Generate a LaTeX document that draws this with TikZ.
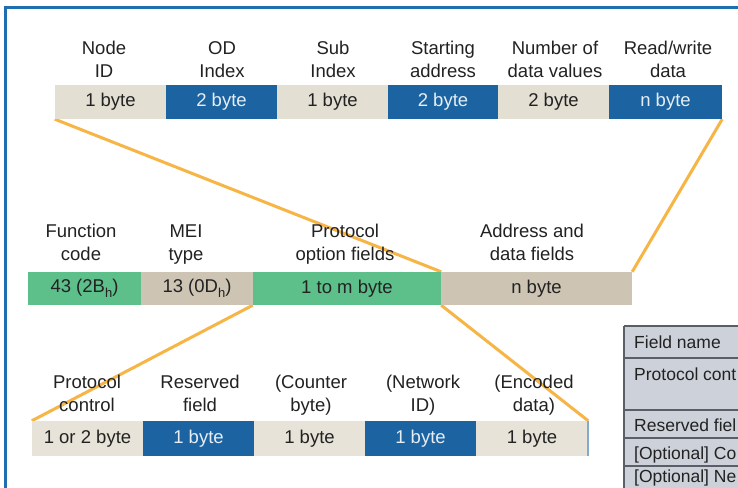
\documentclass[tikz,border=0pt]{standalone}
\usepackage{fontspec}
\setmainfont{Liberation Sans}
\pgfdeclarelayer{bg}
\pgfsetlayers{bg,main}
\definecolor{frameblue}{HTML}{1F6FB0}
\definecolor{cellblue}{HTML}{1C64A1}
\definecolor{topbeige}{HTML}{E3DFD3}
\definecolor{midbeige}{HTML}{CDC4B3}
\definecolor{botbeige}{HTML}{E7E3D8}
\definecolor{cellgreen}{HTML}{5DBF8A}
\definecolor{linkorange}{HTML}{F6B545}
\definecolor{txt}{HTML}{222222}
\definecolor{whitetxt}{HTML}{E6EDF5}
\definecolor{tblfill}{HTML}{CDD2DA}
\definecolor{tblline}{HTML}{5A5E66}
\newcommand\hsub[1]{\raisebox{-0.55ex}{\fontsize{13}{13}\selectfont #1}}
\begin{document}
\begin{tikzpicture}[x=1pt,y=-1pt,
  lbl/.style={align=center, inner sep=0pt, anchor=south, text=txt,
    font=\fontsize{18.5}{23}\selectfont},
  cell/.style={inner sep=0pt, text=txt, font=\fontsize{18.5}{23}\selectfont},
  bluecell/.style={cell, fill=cellblue, text=whitetxt},
  tbeige/.style={cell, fill=topbeige},
  mbeige/.style={cell, fill=midbeige},
  bbeige/.style={cell, fill=botbeige},
  gcell/.style={cell, fill=cellgreen},
  conn/.style={draw=linkorange, line width=3pt},
  tbltxt/.style={anchor=base west, inner sep=0pt, text=txt,
    font=\fontsize{17.5}{21}\selectfont}
]
\useasboundingbox (0,0) rectangle (738,487);

% ---- top row ----
\node[tbeige, minimum width=111pt, minimum height=34pt] (t1) at (110.5,102) {1 byte};
\node[bluecell, minimum width=111pt, minimum height=34pt] (t2) at (221.5,102) {2 byte};
\node[tbeige, minimum width=111pt, minimum height=34pt] (t3) at (332.5,102) {1 byte};
\node[bluecell, minimum width=110pt, minimum height=34pt] (t4) at (443,102) {2 byte};
\node[tbeige, minimum width=111pt, minimum height=34pt] (t5) at (553.5,102) {2 byte};
\node[bluecell, minimum width=113pt, minimum height=34pt] (t6) at (665.5,102) {n byte};

\node[lbl] (lt1) at (104,84.5) {Node\strut\\ID\strut};
\node[lbl] (lt2) at (222,84.5) {OD\strut\\Index\strut};
\node[lbl] (lt3) at (333,84.5) {Sub\strut\\Index\strut};
\node[lbl] (lt4) at (443,84.5) {Starting\strut\\address\strut};
\node[lbl] (lt5) at (555,84.5) {Number of\strut\\data values\strut};
\node[lbl] (lt6) at (668,84.5) {Read/write\strut\\data\strut};

% ---- middle row ----
\node[gcell, minimum width=113pt, minimum height=33pt] (m1) at (84.5,288.5) {43 (2B\hsub{h})};
\node[mbeige, minimum width=112pt, minimum height=33pt] (m2) at (197,288.5) {13 (0D\hsub{h})};
\node[gcell, minimum width=188pt, minimum height=33pt] (m3) at (347,288.5) {1 to m byte};
\node[mbeige, minimum width=191pt, minimum height=33pt] (m4) at (536.5,288.5) {n byte};

\node[lbl] (lm1) at (81,268) {Function\strut\\code\strut};
\node[lbl] (lm2) at (186,268) {MEI\strut\\type\strut};
\node[lbl] (lm3) at (345,268) {Protocol\strut\\option fields\strut};
\node[lbl] (lm4) at (532,268) {Address and\strut\\data fields\strut};

% ---- bottom row ----
\node[bbeige, minimum width=111pt, minimum height=35pt] (b1) at (87.5,438.5) {1 or 2 byte};
\node[bluecell, minimum width=111pt, minimum height=35pt] (b2) at (198.5,438.5) {1 byte};
\node[bbeige, minimum width=111pt, minimum height=35pt] (b3) at (309.5,438.5) {1 byte};
\node[bluecell, minimum width=111pt, minimum height=35pt] (b4) at (420.5,438.5) {1 byte};
\node[bbeige, minimum width=112pt, minimum height=35pt] (b5) at (532,438.5) {1 byte};

\node[lbl] (lb1) at (87,418.5) {Protocol\strut\\control\strut};
\node[lbl] (lb2) at (200,418.5) {Reserved\strut\\field\strut};
\node[lbl] (lb3) at (311,418.5) {(Counter\strut\\byte)\strut};
\node[lbl] (lb4) at (423,418.5) {(Network\strut\\ID)\strut};
\node[lbl] (lb5) at (534,418.5) {(Encoded\strut\\data)\strut};

\draw[draw=cellblue!55, line width=1.5pt] (b5.north east) -- (b5.south east);

% ---- connectors and background ----
\begin{pgfonlayer}{bg}
\fill[white] (0,0) rectangle (738,487);
\draw[conn] (t1.south west) -- (m3.north east);
\draw[conn] (t6.south east) -- (m4.north east);
\draw[conn] (m3.south west) -- (b1.north west);
\draw[conn] (m3.south east) -- (b5.north east);
\end{pgfonlayer}

% ---- right table (cut off at the picture edge) ----
\begin{scope}
\clip (0,0) rectangle (738,487);
\fill[tblfill] (624,326) rectangle (760,500);
\foreach \yy in {326,358,410,438,466}
  \draw[tblline, line width=1.3pt] (624,\yy) -- (760,\yy);
\draw[tblline, line width=1.3pt] (624,326) -- (624,500);
\node[tbltxt] (tf1) at (634,348) {Field name};
\node[tbltxt] (tf2) at (634,380) {Protocol cont};
\node[tbltxt] (tf3) at (634,431) {Reserved fiel};
\node[tbltxt] (tf4) at (634,459) {[Optional] Co};
\node[tbltxt] (tf5) at (634,482) {[Optional] Ne};
\end{scope}

% ---- frame ----
\draw[frameblue, line width=3pt] (5.5,495) -- (5.5,7.5) -- (745,7.5);
\end{tikzpicture}
\end{document}
